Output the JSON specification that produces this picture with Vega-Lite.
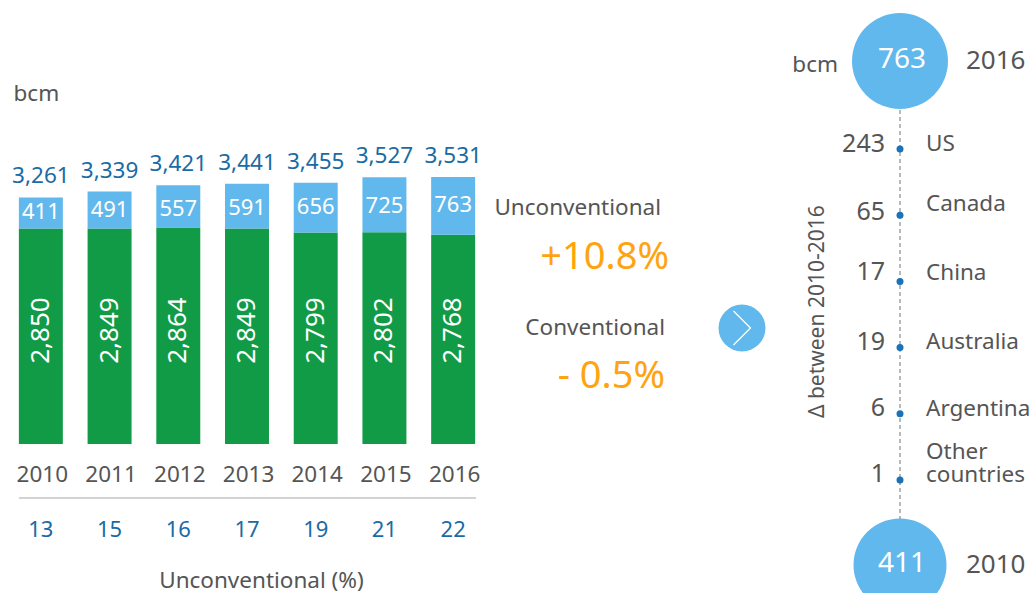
{
"$schema":"https://vega.github.io/schema/vega-lite/v6.json",
"padding":0,"spacing":0,"background":"white",
"autosize":{"type":"pad","contains":"content"},
"config":{"view":{"stroke":null},"font":"Noto Sans","text":{"font":"Noto Sans"},"concat":{"spacing":0}},
"datasets":{
"bars":[
{"year":"2010","conventional":2850,"unconventional":411,"total":3261,"share":13},
{"year":"2011","conventional":2849,"unconventional":491,"total":3339,"share":15},
{"year":"2012","conventional":2864,"unconventional":557,"total":3421,"share":16},
{"year":"2013","conventional":2849,"unconventional":591,"total":3441,"share":17},
{"year":"2014","conventional":2799,"unconventional":656,"total":3455,"share":19},
{"year":"2015","conventional":2802,"unconventional":725,"total":3527,"share":21},
{"year":"2016","conventional":2768,"unconventional":763,"total":3531,"share":22}],
"growth":[
{"group":"Unconventional","col":"text","change":"+10.8%"},
{"group":"Conventional","col":"text","change":"- 0.5%"}],
"arrow":[{"group":"Conventional","col":"arrow"}],
"countries":[
{"country":"US","delta":243},
{"country":"Canada","delta":65},
{"country":"China","delta":17},
{"country":"Australia","delta":19},
{"country":"Argentina","delta":6},
{"country":"Other countries","delta":1}],
"ends":[{"period":"2016","bcm":763},{"period":"2010","bcm":411}],
"span":[{"from":"2016","to":"2010"}]
},
"hconcat":[
{"width":490,"height":593,
"data":{"name":"bars"},
"encoding":{"x":{"field":"year","type":"ordinal","scale":{"range":[6.5,487.5],"paddingInner":0.36,"paddingOuter":0.18},
"axis":{"offset":-149,"domain":false,"ticks":false,"labelAngle":0,"labelFontSize":22.5,"labelColor":"#555555","labelPadding":19,"labelOffset":1.5,"title":"Unconventional (%)","titleFontSize":22.5,"titleFontWeight":"normal","titleColor":"#555555","titleX":261,"titleY":136,"titleBaseline":"middle"}}},
"resolve":{"scale":{"y":"independent"}},
"layer":[
{"layer":[
{"mark":{"type":"bar","color":"#129B47"},"encoding":{"y":{"field":"conventional","type":"quantitative","scale":{"domain":[-1971,5873],"nice":false,"zero":false},
"axis":{"domain":false,"ticks":false,"labels":false,"grid":false,"title":"bcm","titleAngle":0,"titleFontSize":22.5,"titleFontWeight":"normal","titleColor":"#555555","titleX":13,"titleY":93,"titleAlign":"left","titleBaseline":"middle"}}}},
{"mark":{"type":"bar","color":"#61B8EC"},"encoding":{"y":{"field":"total","type":"quantitative"},"y2":{"field":"conventional"}}},
{"mark":{"type":"text","angle":270,"color":"white","fontSize":26,"baseline":"middle"},"encoding":{"y":{"datum":1500},"text":{"field":"conventional","type":"quantitative","format":","}}},
{"mark":{"type":"text","color":"#1A6BA5","fontSize":22.5,"baseline":"bottom","dy":-9},"encoding":{"y":{"field":"total","type":"quantitative"},"text":{"field":"total","type":"quantitative","format":","}}},
{"mark":{"type":"text","color":"#1A6BA5","fontSize":22,"baseline":"middle"},"encoding":{"y":{"datum":-1137},"text":{"field":"share","type":"quantitative"}}},
{"mark":{"type":"rule","color":"#A8A8A8","strokeWidth":1,"x2Offset":23},"data":{"values":[{"level":-714}]},"encoding":{"y":{"field":"level","type":"quantitative"},"x":{"datum":"2010","bandPosition":0},"x2":{"datum":"2016"}}}
]},
{"mark":{"type":"text","color":"white","fontSize":22,"baseline":"middle"},"encoding":{"y":{"field":"unconventional","type":"quantitative","axis":null,"scale":{"domain":[411,763],"range":[212,205],"nice":false,"zero":false}},"text":{"field":"unconventional","type":"quantitative"}}}
]},
{"width":300,"height":593,
"layer":[
{"data":{"name":"growth"},"transform":[{"filter":"datum.group==='Unconventional'"}],"mark":{"type":"text","align":"right","baseline":"middle","fontSize":22.5,"color":"#555555","dx":-4},"encoding":{"x":{"field":"col","type":"nominal","axis":null,"scale":{"type":"point","padding":0,"domain":["text","arrow"],"range":[175,252]}},"y":{"field":"group","type":"nominal","axis":null,"scale":{"type":"point","padding":0,"domain":["Unconventional","Conventional"],"range":[208,328]}},"text":{"field":"group"}}},
{"data":{"name":"growth"},"transform":[{"filter":"datum.group==='Conventional'"}],"mark":{"type":"text","align":"right","baseline":"middle","fontSize":22.5,"color":"#555555"},"encoding":{"x":{"field":"col","type":"nominal"},"y":{"field":"group","type":"nominal"},"text":{"field":"group"}}},
{"data":{"name":"growth"},"transform":[{"filter":"datum.group==='Unconventional'"}],"mark":{"type":"text","align":"right","baseline":"middle","fontSize":38,"color":"#FFA40F","dy":50,"dx":4},"encoding":{"x":{"field":"col","type":"nominal"},"y":{"field":"group","type":"nominal"},"text":{"field":"change"}}},
{"data":{"name":"growth"},"transform":[{"filter":"datum.group==='Conventional'"}],"mark":{"type":"text","align":"right","baseline":"middle","fontSize":38,"color":"#FFA40F","dy":49},"encoding":{"x":{"field":"col","type":"nominal"},"y":{"field":"group","type":"nominal"},"text":{"field":"change"}}},
{"data":{"name":"arrow"},"mark":{"type":"point","filled":true,"size":2209,"color":"#61B8EC","opacity":1,"shape":"circle","dy":2},"encoding":{"x":{"field":"col","type":"nominal"},"y":{"field":"group","type":"nominal"}}},
{"data":{"name":"arrow"},"mark":{"type":"point","filled":false,"size":4624,"color":"white","opacity":1,"strokeWidth":1.3,"dx":2,"dy":1.5,"shape":"M-0.25,-0.5L0.25,0L-0.25,0.5"},"encoding":{"x":{"field":"col","type":"nominal"},"y":{"field":"group","type":"nominal"}}}
]},
{"width":245,"height":593,
"resolve":{"scale":{"y":"independent"}},
"layer":[
{"layer":[
{"data":{"name":"span"},"mark":{"type":"rule","color":"#8A8A8A","strokeWidth":1.2,"strokeDash":[4,3]},"encoding":{"x":{"datum":"axis","type":"nominal","axis":null,"scale":{"type":"point","padding":0,"domain":["axis","edge"],"range":[110,245]}},"y":{"field":"from","type":"nominal","axis":null,"scale":{"type":"point","padding":0,"domain":["2016","2010"],"range":[61,565]}},"y2":{"field":"to"}}},
{"data":{"name":"ends"},"mark":{"type":"point","filled":true,"color":"#61B8EC","opacity":1,"shape":"circle","clip":true},"encoding":{"x":{"datum":"axis","type":"nominal"},"y":{"field":"period","type":"nominal"},"size":{"field":"bcm","type":"quantitative","legend":null,"scale":{"domain":[411,763],"range":[8649,9216]}}}},
{"data":{"name":"ends"},"mark":{"type":"text","color":"white","fontSize":28,"baseline":"middle","dy":-1,"dx":2},"encoding":{"x":{"datum":"axis","type":"nominal"},"y":{"field":"period","type":"nominal"},"text":{"field":"bcm","type":"quantitative"}}},
{"data":{"name":"ends"},"mark":{"type":"text","color":"#555555","fontSize":26,"align":"left","baseline":"middle","dx":66},"encoding":{"x":{"datum":"axis","type":"nominal"},"y":{"field":"period","type":"nominal"},"text":{"field":"period"}}},
{"data":{"values":[{"period":"2016","unit":"bcm"}]},"mark":{"type":"text","color":"#555555","fontSize":22.5,"align":"right","baseline":"middle","dy":4,"dx":-62},"encoding":{"x":{"datum":"axis","type":"nominal"},"y":{"field":"period","type":"nominal"},"text":{"field":"unit"}}}
]},
{"layer":[
{"data":{"name":"countries"},"mark":{"type":"point","filled":true,"size":49,"color":"#1A72B8","opacity":1,"dy":{"expr":"{'China':-3,'Australia':-3,'Argentina':-2}[datum.country]||0"}},"encoding":{"x":{"datum":"axis","type":"nominal"},"y":{"field":"country","type":"nominal","axis":null,"sort":null,"scale":{"type":"point","padding":0,"range":[149,480]}}}},
{"data":{"name":"countries"},"mark":{"type":"text","color":"#555555","fontSize":25,"align":"right","baseline":"middle","dx":-15,"dy":{"expr":"{'US':-5,'Canada':-3,'China':-9,'Australia':-6,'Argentina':-6,'Other countries':-6}[datum.country]"}},"encoding":{"x":{"datum":"axis","type":"nominal"},"y":{"field":"country","type":"nominal","sort":null},"text":{"field":"delta","type":"quantitative"}}},
{"data":{"name":"countries"},"mark":{"type":"text","color":"#555555","fontSize":22.5,"align":"left","baseline":"middle","lineBreak":" ","lineHeight":23,"dx":26,"dy":{"expr":"{'US':-5,'Canada':-11,'China':-8,'Australia':-6,'Argentina':-5,'Other countries':-28}[datum.country]"}},"encoding":{"x":{"datum":"axis","type":"nominal"},"y":{"field":"country","type":"nominal","sort":null},"text":{"field":"country"}}},
{"data":{"values":[{"country":"Australia","label":"Δ between 2010-2016"}]},"mark":{"type":"text","color":"#555555","fontSize":21,"angle":270,"baseline":"middle","dx":36,"dy":-82},"encoding":{"x":{"datum":"axis","type":"nominal"},"y":{"field":"country","type":"nominal","sort":null},"text":{"field":"label"}}}
]}
]}
]}
